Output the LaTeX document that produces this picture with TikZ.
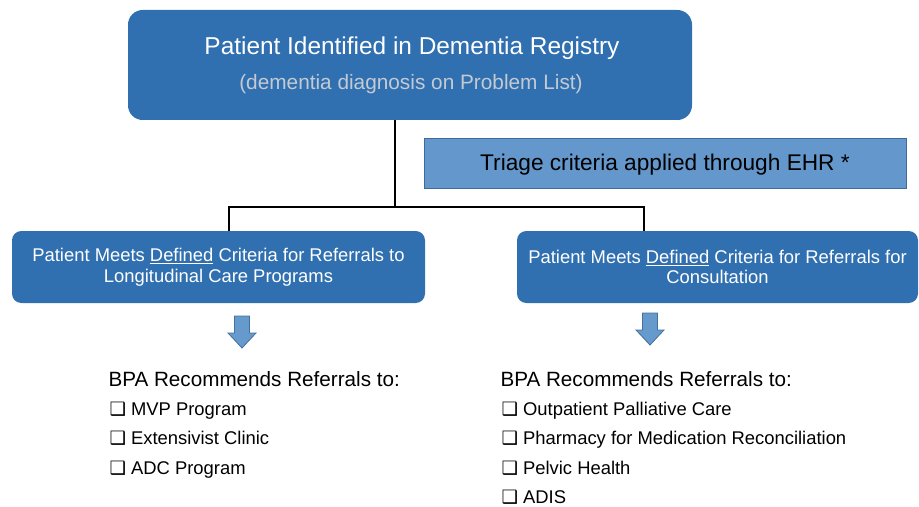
\documentclass[tikz,border=0pt]{standalone}
\usepackage{fontspec}
\setmainfont{Liberation Sans}
\newfontfamily\boxsym{DejaVu Sans}
\usetikzlibrary{positioning}

\definecolor{regblue}{RGB}{48,112,176}
\definecolor{triageblue}{RGB}{100,152,204}
\definecolor{triageedge}{RGB}{62,106,156}
\definecolor{arrowblue}{RGB}{102,153,204}
\definecolor{arrowedge}{RGB}{65,113,156}
\definecolor{subgray}{RGB}{196,202,210}

\tikzset{every picture/.style={line width=0.75pt}}
\tikzset{
  mainbox/.style={fill=regblue, rounded corners=11pt, text=white, align=center, inner sep=0pt},
  critbox/.style={fill=regblue, rounded corners=7pt, text=white, align=center, inner sep=0pt,
    font=\fontsize{13.8}{15.5}\selectfont},
  triagebox/.style={fill=triageblue, draw=triageedge, line width=0.6pt, inner sep=0pt,
    font=\fontsize{17}{20}\selectfont},
  link/.style={line width=1.5pt, black},
  blockarrow/.style={fill=arrowblue, draw=arrowedge, line width=0.6pt},
  listhead/.style={anchor=base west, inner sep=0pt, font=\fontsize{15.5}{18}\selectfont},
  listitem/.style={anchor=base west, inner sep=0pt, font=\fontsize{13.8}{16}\selectfont}
}
\newcommand{\chk}{{\boxsym\char"2751}\ }

\begin{document}
\begin{tikzpicture}[x=0.75pt,y=0.75pt,yscale=-1,xscale=1]
\useasboundingbox (0,0) rectangle (919,506);

% registry box on top
\node[mainbox, minimum width=564*0.75pt, minimum height=110*0.75pt] (registry) at (410,65) {};
\node[text=white, font=\fontsize{18.3}{21}\selectfont] (regtitle) at (412,48) {Patient Identified in Dementia Registry};
\node[text=subgray, font=\fontsize{15.6}{18}\selectfont] (regsub) at (411,84) {(dementia diagnosis on Problem List)};

% triage note
\node[triagebox, minimum width=482*0.75pt, minimum height=50*0.75pt] (triage) at (665,163) {};
\node[font=\fontsize{17}{20}\selectfont] (triagetext) at (665,165) {Triage criteria applied through EHR *};

% the two referral criteria boxes
\node[critbox, minimum width=413*0.75pt, minimum height=72*0.75pt] (longitudinal) at (218.5,267)
  {\rule{0pt}{8pt}Patient Meets \underline{Defined} Criteria for Referrals to\\Longitudinal Care Programs};
\node[critbox, minimum width=401*0.75pt, minimum height=72*0.75pt] (consult) at (717.5,267)
  {\rule{0pt}{8pt}Patient Meets \underline{Defined} Criteria for Referrals for\\Consultation};

% tree connectors
\coordinate (split) at (395,207);
\draw[link] (registry.south -| split) -- (split);
\draw[link] (longitudinal.north -| 229,0) |- (split) -| (consult.north -| 644,0);

% block arrows
\foreach \ax/\ay in {242/316, 650/313}{
  \begin{scope}[shift={(\ax,\ay)}]
    \draw[blockarrow] (-7.5,0) -- (7.5,0) -- (7.5,17) -- (14,17) -- (0,32)
      -- (-14,17) -- (-7.5,17) -- cycle;
  \end{scope}
}

% left recommendations
\node[listhead] (lhead) at (108,386) {BPA Recommends Referrals to:};
\node[listitem] (l1) at (109,415) {\chk MVP Program};
\node[listitem] (l2) at (109,444.5) {\chk Extensivist Clinic};
\node[listitem] (l3) at (109,474) {\chk ADC Program};

% right recommendations
\node[listhead] (rhead) at (500,386) {BPA Recommends Referrals to:};
\node[listitem] (r1) at (501,415) {\chk Outpatient Palliative Care};
\node[listitem] (r2) at (501,444.5) {\chk Pharmacy for Medication Reconciliation};
\node[listitem] (r3) at (501,474) {\chk Pelvic Health};
\node[listitem] (r4) at (501,503) {\chk ADIS};

\end{tikzpicture}
\end{document}
